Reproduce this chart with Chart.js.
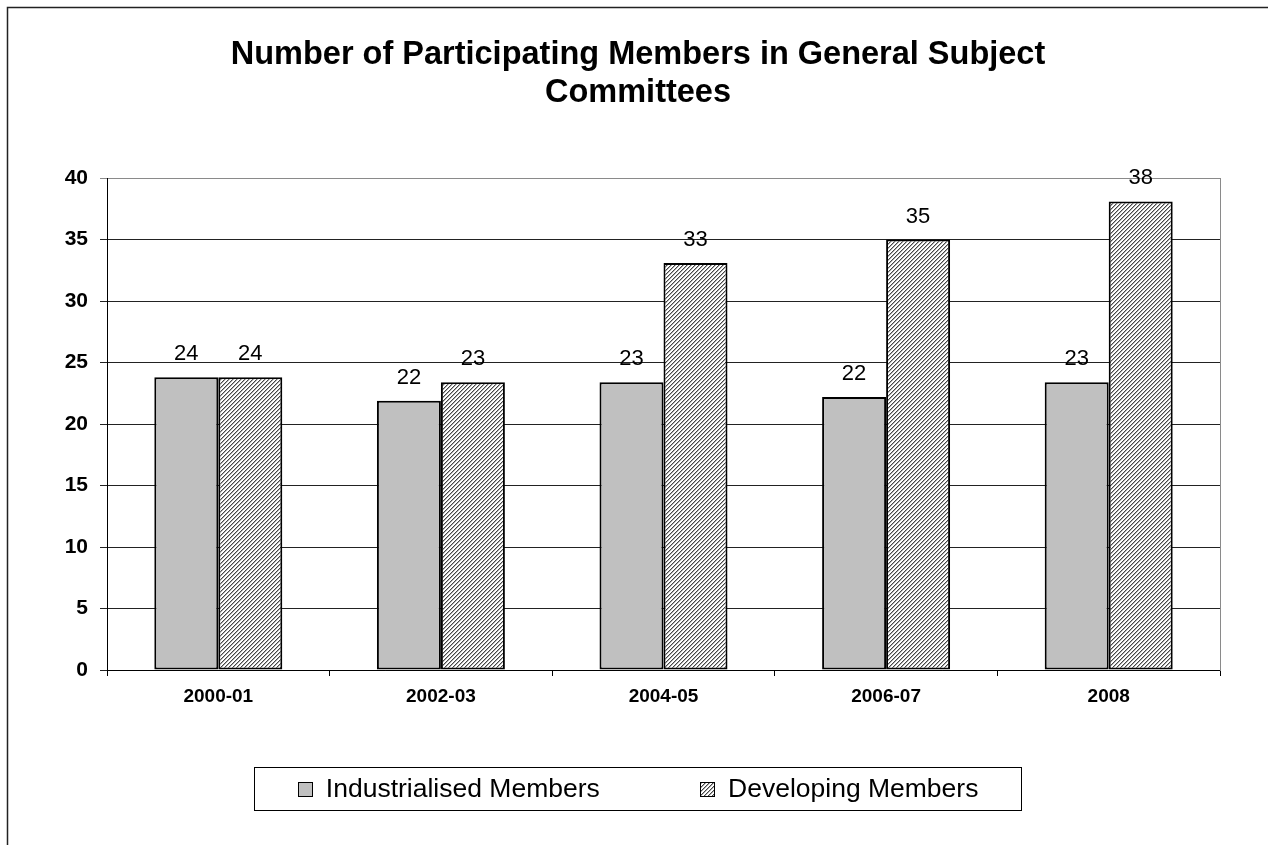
<!DOCTYPE html>
<html>
<head>
<meta charset="utf-8">
<title>Number of Participating Members in General Subject Committees</title>
<script src="https://cdn.jsdelivr.net/npm/chart.js@4.4.1/dist/chart.umd.min.js"></script>
<style>
    html, body { margin: 0; padding: 0; background: #fff; }
    #graphiqueContainer { width: 1268px; height: 845px; position: relative; }
</style>
</head>
<body>
<div id="graphiqueContainer"><canvas id="myChart"></canvas></div>
<script>
// Données
const periodes = ["2000-01", "2002-03", "2004-05", "2006-07", "2008"];
const industrialises = [23.8, 21.9, 23.4, 22.2, 23.4];
const enDeveloppement = [23.8, 23.4, 33.1, 35.0, 38.1];
const nomsSeries = ["Industrialised Members", "Developing Members"];
const titreLignes = ["Number of Participating Members in General Subject", "Committees"];
const yMin = 0;
const yMax = 40;
const yPas = 5;

const police = "'Liberation Sans', Arial, Helvetica, sans-serif";

// Motif hachuré "/" pour la série Developing
function creerHachures(ctxPrincipal) {
    const c = document.createElement("canvas");
    c.width = 4;
    c.height = 4;
    const cx = c.getContext("2d");
    const img = cx.createImageData(4, 4);
    for (let y = 0; y < 4; y++) {
        for (let x = 0; x < 4; x++) {
            const k = (x + y) % 4;
            let v = 255;
            if (k === 3) v = 70;
            else if (k === 0) v = 175;
            const i = (y * 4 + x) * 4;
            img.data[i] = v;
            img.data[i + 1] = v;
            img.data[i + 2] = v;
            img.data[i + 3] = 255;
        }
    }
    cx.putImageData(img, 0, 0);
    return ctxPrincipal.createPattern(c, "repeat");
}

// Cadre extérieur (seuls les bords gauche et haut sont visibles)
const cadrePlugin = {
    id: "cadre",
    beforeDraw(chart) {
        const ctx = chart.ctx;
        ctx.save();
        ctx.fillStyle = "#fff";
        ctx.fillRect(0, 0, chart.width, chart.height);
        ctx.strokeStyle = "#222";
        ctx.lineWidth = 1.5;
        ctx.strokeRect(7.5, 7.5, chart.width + 40, chart.height + 40);
        ctx.restore();
    }
};

// Valeurs arrondies au-dessus des barres
const etiquettesPlugin = {
    id: "etiquettes",
    afterDatasetsDraw(chart) {
        const ctx = chart.ctx;
        ctx.save();
        ctx.font = "22px " + police;
        ctx.fillStyle = "#000";
        ctx.textAlign = "center";
        ctx.textBaseline = "alphabetic";
        chart.data.datasets.forEach((ds, i) => {
            const meta = chart.getDatasetMeta(i);
            meta.data.forEach((bar, j) => {
                ctx.fillText(String(Math.round(ds.data[j])), bar.x, bar.y - 17);
            });
        });
        ctx.restore();
    }
};

// Légende encadrée en bas
const legendePlugin = {
    id: "legendeCadre",
    afterDraw(chart) {
        const ctx = chart.ctx;
        const taillePolice = 26.5;
        const carre = 15;
        const ecart = 100;
        const haut = chart.height - 78;
        const hauteur = 43;
        const centreX = (8 + chart.width) / 2;
        ctx.save();
        ctx.font = taillePolice + "px " + police;
        const items = chart.data.datasets.map(ds => ({
            texte: ds.label,
            fond: ds.backgroundColor,
            largeur: carre + taillePolice / 2 + ctx.measureText(ds.label).width
        }));
        const total = items.reduce((s, it) => s + it.largeur, 0) + ecart * (items.length - 1);
        let x = centreX - total / 2;
        const boiteG = Math.round(x - 44);
        const boiteD = Math.round(x + total + 43);
        ctx.strokeStyle = "#000";
        ctx.lineWidth = 1;
        ctx.strokeRect(boiteG + 0.5, haut + 0.5, boiteD - boiteG, hauteur);
        const milieu = haut + hauteur / 2 + 1;
        items.forEach(it => {
            const cy = Math.round(milieu - carre / 2);
            ctx.fillStyle = it.fond;
            ctx.fillRect(Math.round(x), cy, carre, carre);
            ctx.strokeStyle = "#000";
            ctx.strokeRect(Math.round(x) + 0.5, cy + 0.5, carre - 1, carre - 1);
            ctx.fillStyle = "#000";
            ctx.textAlign = "left";
            ctx.textBaseline = "middle";
            ctx.fillText(it.texte, x + carre + taillePolice / 2, milieu);
            x += it.largeur + ecart;
        });
        ctx.restore();
    }
};

const ctx = document.getElementById("myChart").getContext("2d");
const hachures = creerHachures(ctx);

const chart = new Chart(ctx, {
    type: "bar",
    data: {
        labels: periodes,
        datasets: [
            {
                label: nomsSeries[0],
                data: industrialises,
                backgroundColor: "#c0c0c0",
                borderColor: "#000",
                borderWidth: 2,
                borderSkipped: false
            },
            {
                label: nomsSeries[1],
                data: enDeveloppement,
                backgroundColor: hachures,
                borderColor: "#000",
                borderWidth: 2,
                borderSkipped: false
            }
        ]
    },
    options: {
        responsive: true,
        maintainAspectRatio: false,
        animation: false,
        events: [],
        layout: {
            padding: { left: 8, right: 0, top: 7, bottom: 130 }
        },
        datasets: {
            bar: { categoryPercentage: 0.575, barPercentage: 1 }
        },
        scales: {
            x: {
                afterFit: scale => { scale.height = 45; },
                grid: {
                    offset: true,
                    drawOnChartArea: false,
                    drawTicks: true,
                    tickLength: 6,
                    color: "#000"
                },
                border: { color: "#000", width: 1 },
                ticks: {
                    color: "#000",
                    padding: 9,
                    font: { family: police, size: 19, weight: "bold" }
                }
            },
            y: {
                min: yMin,
                max: yMax,
                afterFit: scale => { scale.width = 99; },
                grid: {
                    color: c => (c.tick && c.tick.value === yMax ? "#8a8a8a" : "#222"),
                    tickLength: 7
                },
                border: { color: "#000", width: 1 },
                ticks: {
                    stepSize: yPas,
                    color: "#000",
                    padding: 12,
                    font: { family: police, size: 21, weight: "bold" }
                }
            },
            // axe vide à droite : sert de bord droit gris de la zone de tracé
            yDroite: {
                position: "right",
                min: yMin,
                max: yMax,
                afterFit: scale => { scale.width = 48; },
                grid: { drawOnChartArea: false, drawTicks: false },
                border: { color: "#8a8a8a", width: 1 },
                ticks: { display: false }
            }
        },
        plugins: {
            legend: { display: false },
            tooltip: { enabled: false },
            title: {
                display: true,
                text: titreLignes,
                color: "#000",
                font: { family: police, size: 32.5, weight: "bold", lineHeight: 1.17 },
                padding: { top: 29, bottom: 66 }
            }
        }
    },
    plugins: [cadrePlugin, etiquettesPlugin, legendePlugin]
});
</script>
</body>
</html>
